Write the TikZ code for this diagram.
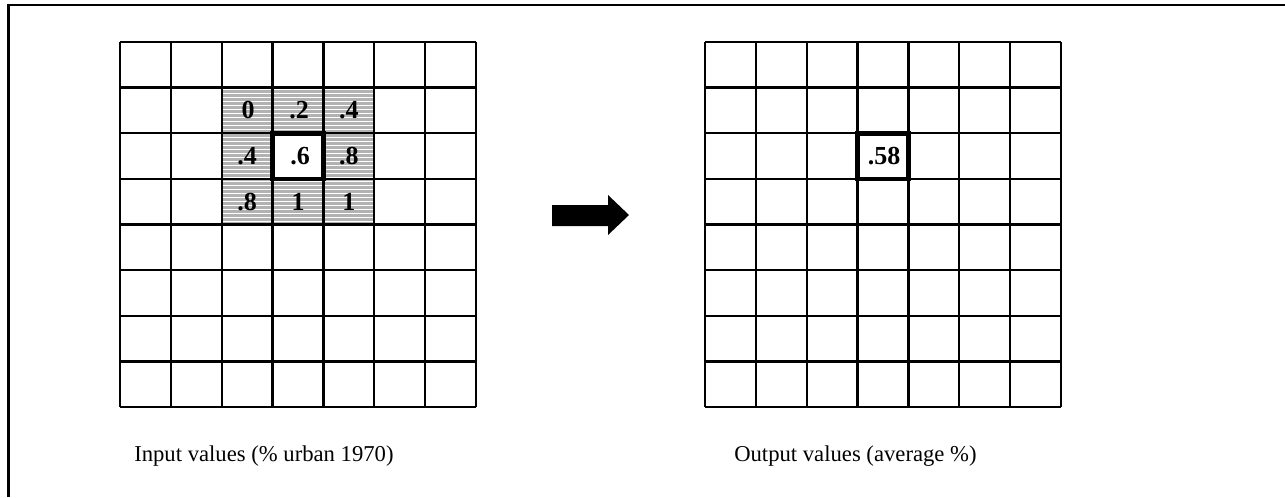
\documentclass[tikz,border=0pt]{standalone}
\usepackage{fontspec}
\setmainfont{Liberation Serif}
\begin{document}
\begin{tikzpicture}[x=0.75pt,y=-0.75pt,
  gridline/.style={line width=1.7pt,black},
  thickcell/.style={line width=3.4pt,black,fill=white},
  val/.style={font=\fontsize{19.5}{21}\selectfont\bfseries,inner sep=0pt},
  caption/.style={font=\fontsize{17}{19}\selectfont,inner sep=0pt,anchor=west},
  shade/.style={fill=black!30}]
\useasboundingbox (0,0) rectangle (1285,497);
% frame
\draw[line width=1.6pt] (8.5,497) -- (8.5,5) -- (1285,5);
% shaded neighbourhood
\fill[shade] (221,88) rectangle (374,225);
\foreach \k in {0,...,34} {
  \draw[white,line width=0.9pt] (221,{89.5+4*\k}) -- (374,{89.5+4*\k});
}
% left grid
\foreach \i in {0,...,7} {
  \draw[gridline] ({120+\i*356/7},42) -- ({120+\i*356/7},407);
}
\foreach \j in {0,...,8} {
  \draw[gridline] (120,{42+\j*365/8}) -- (476,{42+\j*365/8});
}
% right grid
\foreach \i in {0,...,7} {
  \draw[gridline] ({705+\i*356/7},42) -- ({705+\i*356/7},407);
}
\foreach \j in {0,...,8} {
  \draw[gridline] (705,{42+\j*365/8}) -- (1061,{42+\j*365/8});
}
% centre cells
\draw[thickcell] ({120+3*356/7},{42+2*365/8}) rectangle ({120+4*356/7},{42+3*365/8});
\draw[thickcell] ({705+3*356/7},{42+2*365/8}) rectangle ({705+4*356/7},{42+3*365/8});
% values
\node[val] (v11) at ({120+2.5*356/7+1},{42+1.5*365/8}) {0};
\node[val] (v12) at ({120+3.5*356/7+1},{42+1.5*365/8}) {.2};
\node[val] (v13) at ({120+4.5*356/7},{42+1.5*365/8}) {.4};
\node[val] (v21) at ({120+2.5*356/7},{42+2.5*365/8}) {.4};
\node[val] (v22) at ({120+3.5*356/7+2},{42+2.5*365/8}) {.6};
\node[val] (v23) at ({120+4.5*356/7},{42+2.5*365/8}) {.8};
\node[val] (v31) at ({120+2.5*356/7},{42+3.5*365/8}) {.8};
\node[val] (v32) at ({120+3.5*356/7},{42+3.5*365/8}) {1};
\node[val] (v33) at ({120+4.5*356/7},{42+3.5*365/8}) {1};
\node[val] (out) at ({705+3.5*356/7+1},{42+2.5*365/8}) {.58};
% arrow
\fill (552,205) -- (608,205) -- (608,195) -- (629,215) -- (608,235) -- (608,226) -- (552,226) -- cycle;
% captions
\node[caption] (cin) at (134,456) {Input values (\% urban 1970)};
\node[caption] (cout) at (734,456) {Output values (average \%)};
\end{tikzpicture}
\end{document}
